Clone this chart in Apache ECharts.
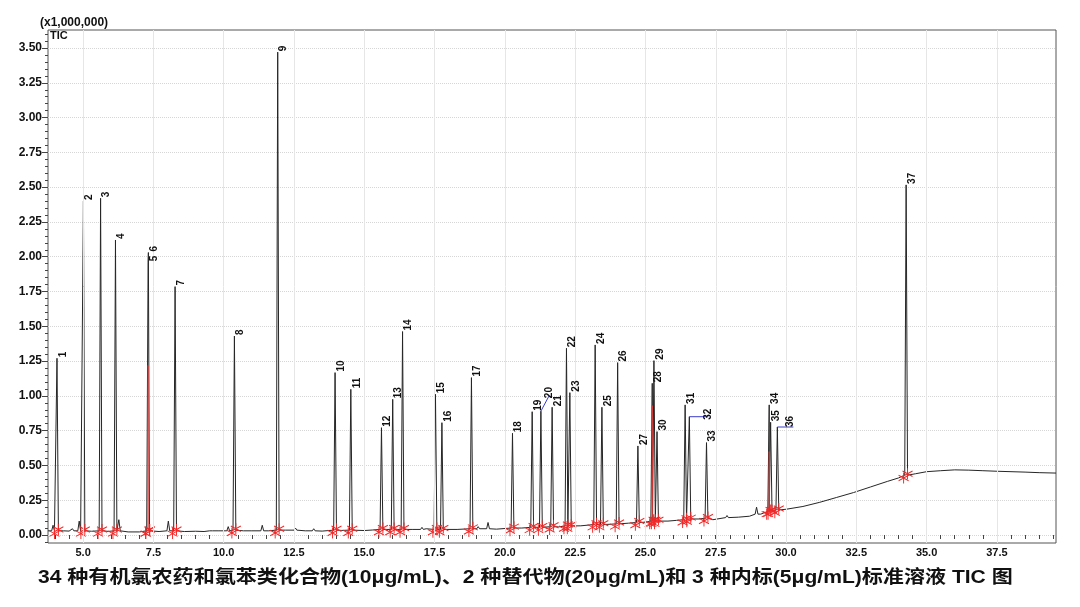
<!DOCTYPE html>
<html><head><meta charset="utf-8">
<script src="https://cdn.jsdelivr.net/npm/echarts@6.0.0/dist/echarts.min.js"></script>
<style>html,body{margin:0;padding:0;background:#fff}#c{width:1080px;height:607px}</style>
</head><body><div id="c"></div>
<script>
// ---- data ----
const peakIds = ['1','2','3','4','5','6','7','8','9','10','11','12','13','14','15','16','17','18','19','20','21','22','23','24','25','26','27','28','29','30','31','32','33','34','35','36','37'];
const peakTimes = [4.07,5.01,5.62,6.15,7.31,7.32,8.27,10.38,11.92,13.96,14.52,15.61,16.01,16.36,17.53,17.76,18.81,20.27,20.97,21.28,21.68,22.19,22.31,23.21,23.45,24.01,24.73,25.24,25.30,25.41,26.41,26.56,27.17,29.40,29.45,29.69,34.27];
const peakHeights = [1.27,2.40,2.42,2.12,1.96,2.03,1.785,1.43,3.47,1.167,1.047,0.771,0.975,1.462,1.011,0.807,1.131,0.731,0.886,0.89,0.918,1.342,1.023,1.366,0.918,1.239,0.64,1.09,1.253,0.743,0.935,0.85,0.664,0.935,0.81,0.776,2.516];
const peakBases = [0.03,0.03,0.03,0.03,0.03,0.03,0.03,0.035,0.035,0.035,0.035,0.04,0.04,0.04,0.04,0.04,0.045,0.05,0.055,0.055,0.06,0.065,0.065,0.075,0.075,0.08,0.09,0.10,0.10,0.10,0.11,0.115,0.12,0.17,0.17,0.18,0.43];
const baselineTimes = [3.75,4.3,4.5,5.3,5.9,6.6,7.0,7.7,8.6,9.0,9.3,9.8,10.7,11.0,11.6,12.2,12.9,13.5,14.2,15.0,15.3,16.7,17.2,18.3,19.7,20.6,21.9,22.7,23.8,24.4,25.0,25.8,26.1,26.9,27.4,27.8,28.3,28.7,29.1,30.0,30.6,31.2,31.8,32.4,33.0,33.6,34.0,34.6,35.0,35.5,36.0,36.5,37.0,37.5,38.0,38.5,39.0,39.6];
const baselineValues = [0.03,0.03,0.028,0.027,0.026,0.022,0.022,0.025,0.025,0.027,0.025,0.03,0.03,0.03,0.03,0.035,0.03,0.028,0.033,0.032,0.036,0.04,0.045,0.04,0.042,0.05,0.058,0.066,0.078,0.085,0.092,0.10,0.105,0.115,0.11,0.118,0.128,0.135,0.15,0.185,0.205,0.235,0.27,0.305,0.345,0.385,0.41,0.44,0.455,0.462,0.468,0.466,0.462,0.458,0.455,0.452,0.448,0.445];
const bumpTimes = [3.93,4.62,4.86,6.27,8.03,9.55,10.16,11.37,12.55,13.2,17.05,19.05,19.4,27.9,28.95];
const bumpHeights = [0.07,0.045,0.10,0.11,0.10,0.04,0.06,0.07,0.05,0.045,0.055,0.06,0.09,0.14,0.20];
const bumpBases = [0.03,0.03,0.03,0.03,0.03,0.03,0.03,0.03,0.035,0.03,0.04,0.045,0.045,0.125,0.15];
const redTimes = [7.31,25.24,29.40];
const redTops = [1.22,0.93,0.60];
const redBottoms = [0.03,0.10,0.17];
const xTickLabels = [5.0,7.5,10.0,12.5,15.0,17.5,20.0,22.5,25.0,27.5,30.0,32.5,35.0,37.5];
const yTickLabels = [0,0.25,0.5,0.75,1,1.25,1.5,1.75,2,2.25,2.5,2.75,3,3.25,3.5];
const yUnitText = '(x1,000,000)';
const traceName = 'TIC';
const caption = '34 种有机氯农药和氯苯类化合物(10μg/mL)、2 种替代物(20μg/mL)和 3 种内标(5μg/mL)标准溶液 TIC 图';

// ---- build series data ----
const W = 0.05;
const near = (t, arr, d) => arr.some(p => Math.abs(p - t) < d);
const trace = [];
baselineTimes.forEach((t, i) => {
  if (!near(t, peakTimes, 0.1) && !near(t, bumpTimes, 0.1)) trace.push([t, baselineValues[i]]);
});
peakTimes.forEach((t, i) => { trace.push([t - W, peakBases[i]], [t, peakHeights[i]], [t + W, peakBases[i]]); });
bumpTimes.forEach((t, i) => { trace.push([t - W, bumpBases[i]], [t, bumpHeights[i]], [t + W, bumpBases[i]]); });
trace.sort((a, b) => a[0] - b[0]);

const markers = [];
peakTimes.forEach((t, i) => { markers.push([t - 0.09, peakBases[i] - 0.02]); markers.push([t + 0.05, peakBases[i] + 0.01]); });

// leader-line label styling (pixel offsets): [lineDx, lineDy, labelDx, labelDy]
const leaderStyle = { '20': [8, -15, 0, 2], '32': [19, 0, 0, 3], '36': [16, 0, -3, 0] };

const FONT = '"Liberation Sans", Arial, "Noto Sans CJK SC", sans-serif';
const chart = echarts.init(document.getElementById('c'), null, { renderer: 'canvas' });
chart.setOption({
  animation: false,
  backgroundColor: '#fff',
  grid: [
    { left: 48, right: 24, top: 30, bottom: 64, show: true, borderColor: '#555', borderWidth: 1, backgroundColor: 'transparent', outerBoundsMode: 'none' },
    { left: 55, right: 26.9, top: 34.1, bottom: 65.04, outerBoundsMode: 'none' },
    { left: 48, right: 24, top: 48, bottom: 72, outerBoundsMode: 'none' }
  ],
  xAxis: [
    { gridIndex: 0, type: 'value', min: 3.75, max: 39.6, show: false },
    { gridIndex: 1, type: 'value', min: 4, max: 39.5, interval: 0.5, offset: 1,
      axisLine: { show: false }, splitLine: { show: false },
      axisTick: { show: true, length: 4, lineStyle: { color: '#444' } },
      axisLabel: { margin: 5, color: '#111', fontWeight: 'bold', fontSize: 11, fontFamily: FONT,
        showMinLabel: true, showMaxLabel: true,
        formatter: v => xTickLabels.some(x => Math.abs(x - v) < 1e-6) ? v.toFixed(1) : '' } },
    { gridIndex: 2, type: 'value', min: 3.75, max: 39.6, show: false }
  ],
  yAxis: [
    { gridIndex: 0, type: 'value', min: -0.0575, max: 3.629, show: false },
    { gridIndex: 1, type: 'value', min: -0.05, max: 3.6, interval: 0.05, offset: 7,
      axisLine: { show: false }, splitLine: { show: false }, axisLabel: { show: false },
      axisTick: { show: true, length: 3, lineStyle: { color: '#444' } } },
    { gridIndex: 2, type: 'value', min: 0, max: 3.5, interval: 0.25,
      axisLine: { show: false },
      axisTick: { show: true, length: 6, lineStyle: { color: '#444' } },
      axisLabel: { margin: 6, color: '#111', fontWeight: 'bold', fontSize: 12, fontFamily: FONT,
        formatter: v => yTickLabels.some(y => Math.abs(y - v) < 1e-6) ? v.toFixed(2) : '' },
      splitLine: { show: true, lineStyle: { color: '#d6d6d6', type: 'dotted', width: 1 } } }
  ],
  series: [
    { type: 'line', name: traceName, xAxisIndex: 0, yAxisIndex: 0, data: trace, showSymbol: false, symbol: 'none',
      lineStyle: { color: '#262626', width: 1 }, silent: true, z: 2,
      markLine: { silent: true, symbol: 'none', label: { show: false },
        lineStyle: { color: '#e6e6e6', type: 'solid', width: 1 },
        data: xTickLabels.map(v => ({ xAxis: v })) } },
    { type: 'custom', xAxisIndex: 0, yAxisIndex: 0, silent: true, z: 3,
      data: redTimes.map((t, i) => [t, redBottoms[i], redTops[i]]),
      renderItem: (params, api) => {
        const a = api.coord([api.value(0), api.value(1)]);
        const b = api.coord([api.value(0), api.value(2)]);
        return { type: 'line', shape: { x1: a[0], y1: a[1], x2: b[0], y2: b[1] }, style: { stroke: '#e53935', lineWidth: 1.2 } };
      } },
    { type: 'scatter', xAxisIndex: 0, yAxisIndex: 0, data: markers, silent: true, z: 4,
      symbol: 'path://M5 0L5 10M0.67 2.5L9.33 7.5M0.67 7.5L9.33 2.5', symbolSize: [10, 11],
      itemStyle: { color: 'transparent', borderColor: '#f02828', borderWidth: 1, opacity: 1 } },
    { type: 'custom', xAxisIndex: 0, yAxisIndex: 0, silent: true, z: 5, clip: false,
      data: peakTimes.map((t, i) => [t, peakHeights[i], i]),
      renderItem: (params, api) => {
        const i = api.value(2);
        const id = peakIds[i];
        const p = api.coord([api.value(0), api.value(1)]);
        const children = [];
        let ax = p[0] + 6, ay = p[1] - 1;
        const ld = leaderStyle[id];
        if (ld) {
          const ex = p[0] + ld[0], ey = p[1] + ld[1];
          children.push({ type: 'line', shape: { x1: p[0], y1: p[1], x2: ex, y2: ey }, style: { stroke: '#3c3cc8', lineWidth: 1 } });
          ax = ex + ld[2]; ay = ey + ld[3];
        }
        children.push({ type: 'text', x: ax, y: ay, rotation: Math.PI / 2,
          style: { text: id, fill: '#111', font: 'bold 10px ' + FONT, align: 'left', verticalAlign: 'middle' } });
        return { type: 'group', children };
      } }
  ],
  graphic: [
    { type: 'text', x: 40, y: 17, style: { text: yUnitText, fill: '#111', font: 'bold 12px ' + FONT } },
    { type: 'text', x: 50, y: 30, style: { text: traceName, fill: '#111', font: 'bold 11px ' + FONT } },
    { type: 'text', x: 38, y: 569, scaleX: 1.17, style: { text: caption, fill: '#111', font: 'bold 18px ' + FONT } }
  ]
});
</script></body></html>
